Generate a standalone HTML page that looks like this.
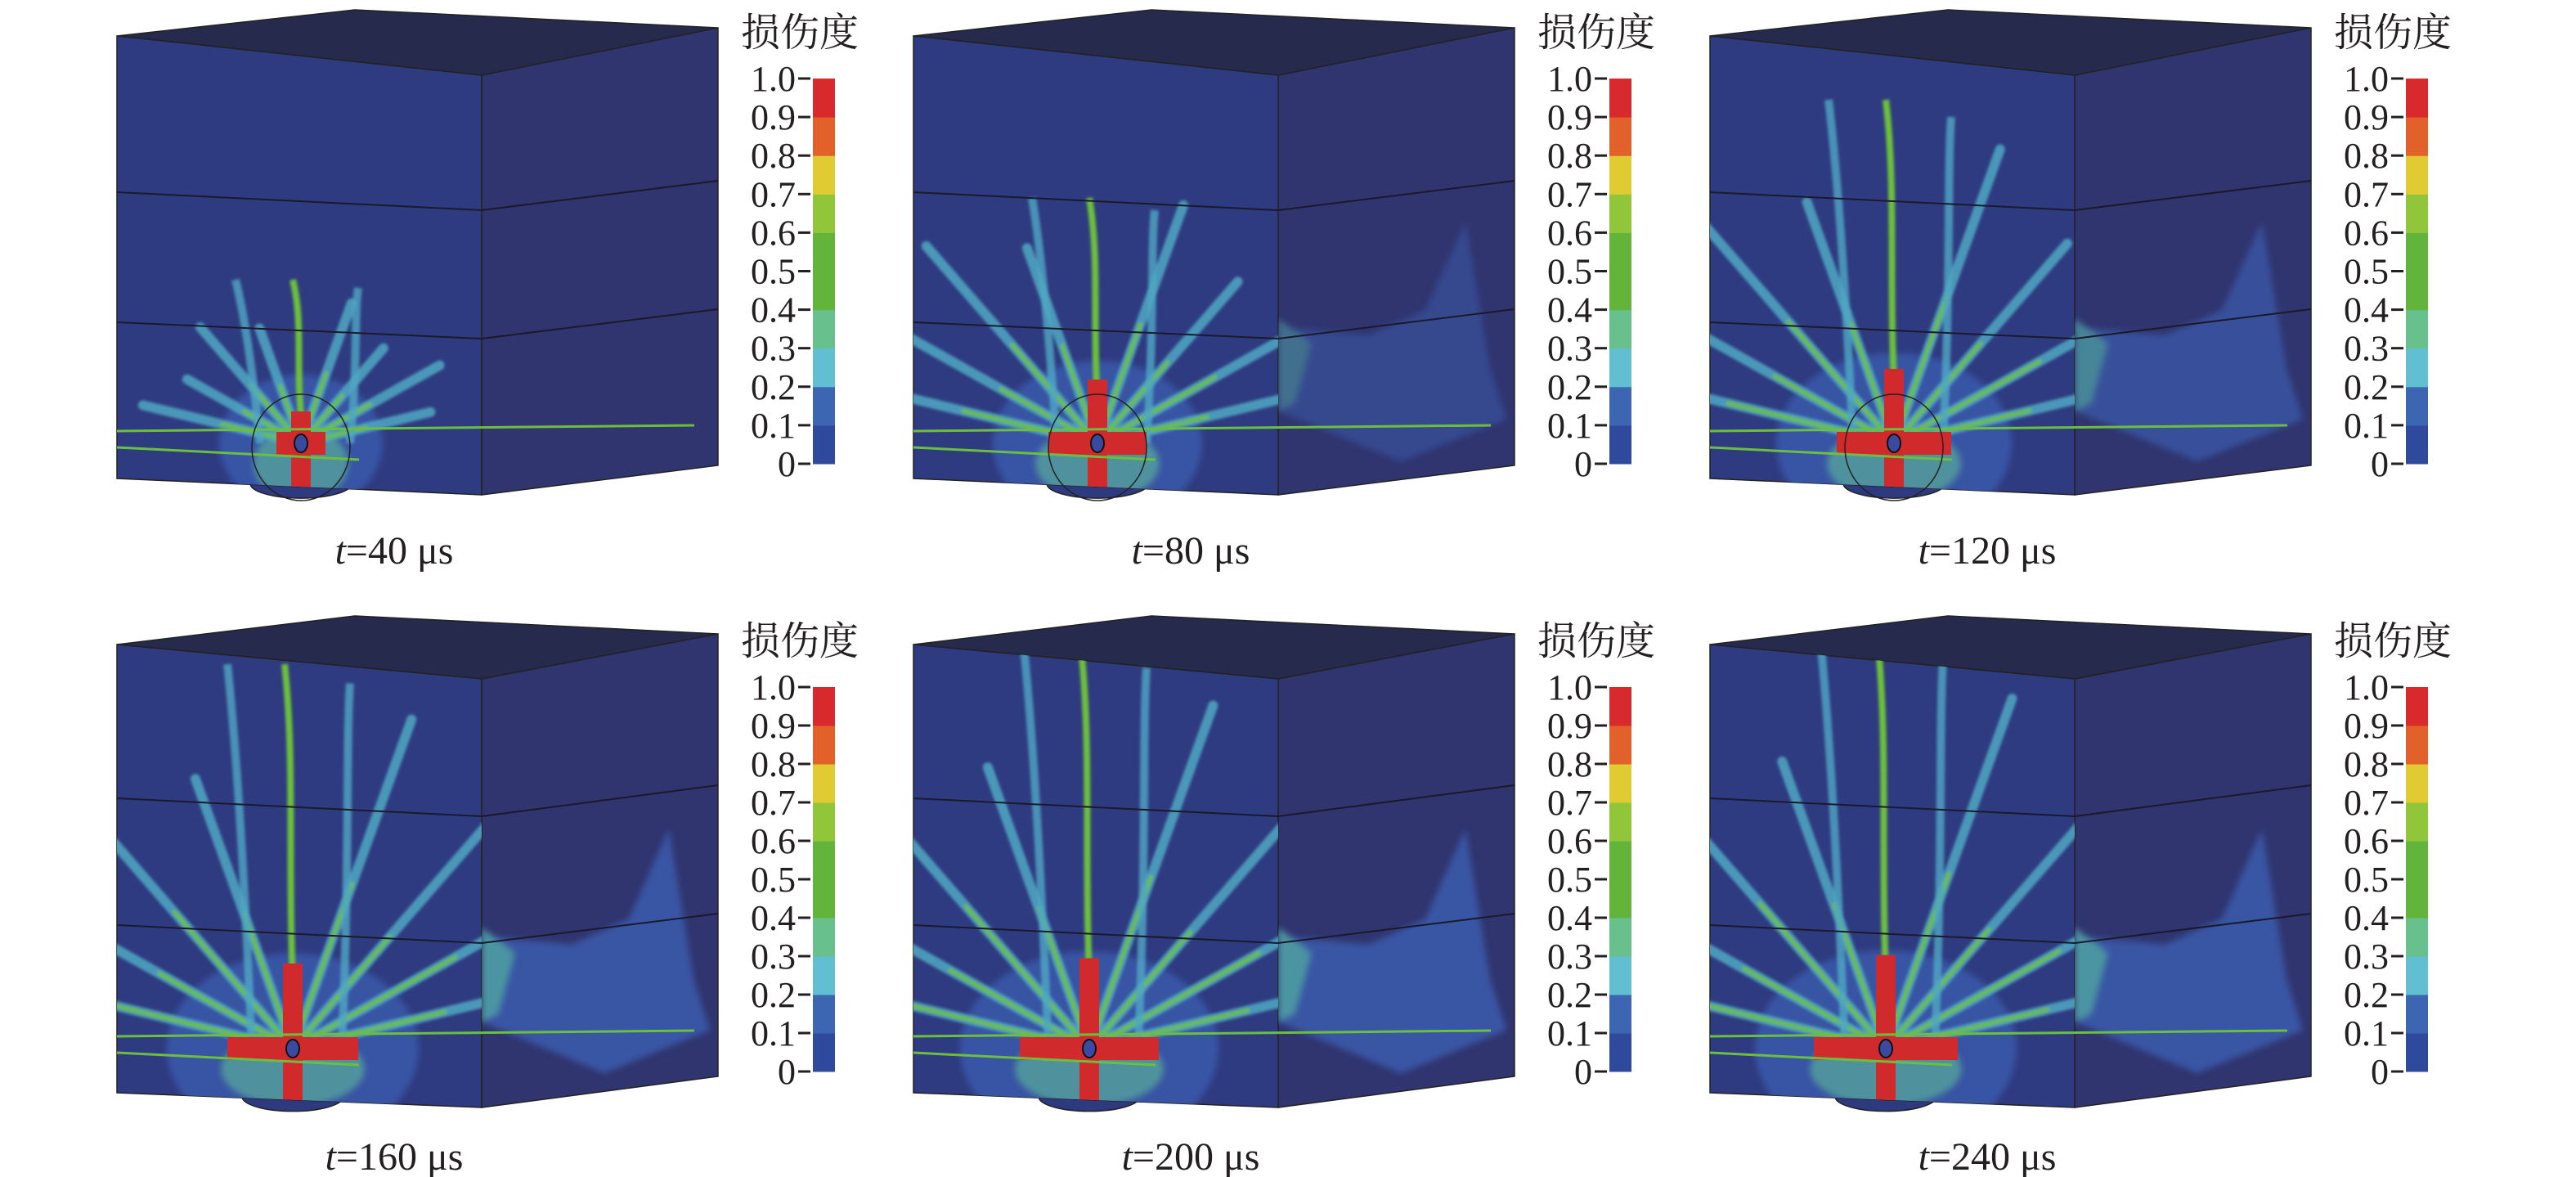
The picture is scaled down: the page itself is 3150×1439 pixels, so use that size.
<!DOCTYPE html>
<html><head><meta charset="utf-8"><style>
html,body{margin:0;padding:0;background:#fff;}
svg{display:block;}
text{font-family:"Liberation Serif","Noto Serif CJK SC",serif;fill:#231f20;}
</style></head><body>
<svg id="fig" width="3150" height="1439" viewBox="0 0 3150 1439" xmlns="http://www.w3.org/2000/svg">
<defs>
<filter id="blur" x="-20%" y="-20%" width="140%" height="140%"><feGaussianBlur stdDeviation="4"/></filter>
<filter id="blur2" x="-20%" y="-20%" width="140%" height="140%"><feGaussianBlur stdDeviation="1.5"/></filter>
</defs>
</svg>
<script>
// colorbar data
const tickLabels = ["0","0.1","0.2","0.3","0.4","0.5","0.6","0.7","0.8","0.9","1.0"];
const bandColors = ["#2f4a9c","#3c65b2","#62bfd2","#68c08c","#62b53a","#62b53a","#92c63a","#e0cc32","#e2602a","#d82a2c"];
// panel data
const timeLabels = ["40","80","120","160","200","240"];
const rayAngles = [165,148,128,108,72,52,32,15];
const rayLengths = [200,340,420,470,490,500];
const verticalCrack = [200,300,420,470,490,500];
const crossHalfWidth = [30,60,70,80,85,88];
const rightDamage = [0,0.55,0.75,0.9,0.9,0.9];

const NS="http://www.w3.org/2000/svg";
const svg=document.getElementById('fig');
const defs=svg.querySelector('defs');
function mk(tag,attrs,parent){const e=document.createElementNS(NS,tag);for(const k in attrs)e.setAttribute(k,attrs[k]);(parent||svg).appendChild(e);return e;}

const rows=[
 {fl:143,ft:44,fr:589,frt:92,fb:585,frb:605,rr:878,rt:34,rb:569,bx:434,by:12,
  b1:[235,257,221],b2:[394,414,378],cx:368,cy:542,lab:689,cbTop:96,cbBot:567,ttl:56},
 {fl:143,ft:788,fr:589,frt:830,fb:1336,frb:1354,rr:878,rt:775,rb:1316,bx:434,by:753,
  b1:[976,998,960],b2:[1131,1153,1117],cx:358,cy:1282,lab:1430,cbTop:840,cbBot:1310,ttl:800}
];
const colDX=974;

for(let i=0;i<6;i++){
  const r=rows[Math.floor(i/3)], dx=(i%3)*colDX;
  const g=mk('g',{transform:`translate(${dx},0)`});
  
  
  const botAt=x=>r.fb+(r.frb-r.fb)*(x-r.fl)/(r.fr-r.fl);
  const cyl=mk('ellipse',{cx:r.cx,cy:botAt(r.cx)-4,rx:62,ry:18,fill:'#2e3a80',stroke:'#222',"stroke-width":1.5},g);
  
  
  const top=mk('polygon',{points:`${r.fl},${r.ft} ${r.bx},${r.by} ${r.rr},${r.rt} ${r.fr},${r.frt}`,fill:'#262a4c',stroke:'#222','stroke-width':1.5},g);
  
  
  const rf=mk('polygon',{points:`${r.fr},${r.frt} ${r.rr},${r.rt} ${r.rr},${r.rb} ${r.fr},${r.frb}`,fill:'#30356f',stroke:'#222','stroke-width':1.5},g);
  
  
  const ff=mk('polygon',{points:`${r.fl},${r.ft} ${r.fr},${r.frt} ${r.fr},${r.frb} ${r.fl},${r.fb}`,fill:'#2f3b80',stroke:'#222','stroke-width':1.5},g);
  
  
  const cp=mk('clipPath',{id:'clip'+i},defs);
  mk('polygon',{points:`${r.fl},${r.ft} ${r.fr},${r.frt} ${r.fr},${r.frb} ${r.fl},${r.fb}`},cp);
  const cpr=mk('clipPath',{id:'clipr'+i},defs);
  mk('polygon',{points:`${r.fr},${r.frt} ${r.rr},${r.rt} ${r.rr},${r.rb} ${r.fr},${r.frb}`},cpr);
  if(rightDamage[i]>0){
    const rd=mk('g',{'clip-path':`url(#clipr${i})`,opacity:rightDamage[i],filter:'url(#blur)'},g);
    
    
    const h=r.frb-r.frt;
    mk('polygon',{points:`${r.fr},${r.frt+h*0.6} ${r.fr+110},${r.frt+h*0.62} ${r.fr+180},${r.frt+h*0.56} ${r.rr-60},${r.frt+h*0.35} ${r.rr-30},${r.frt+h*0.7} ${r.rr-10},${r.frb-h*0.18} ${r.fr+150},${r.frb-h*0.08} ${r.fr},${r.frb-h*0.2}`,fill:'#3a5aaa'},rd);
    mk('polygon',{points:`${r.fr},${r.frt+h*0.58} ${r.fr+40},${r.frt+h*0.64} ${r.fr+20},${r.frt+h*0.78} ${r.fr},${r.frt+h*0.8}`,fill:'#4fa0a8'},rd);
  }
  const d=mk('g',{'clip-path':`url(#clip${i})`},g);
  
  
  mk('ellipse',{cx:r.cx,cy:r.cy,rx:60+rayLengths[i]*0.2,ry:60+rayLengths[i]*0.12,fill:'#3a5cae',opacity:0.8,filter:'url(#blur)'},d);
  mk('ellipse',{cx:r.cx,cy:r.cy+25,rx:40+crossHalfWidth[i]*0.6,ry:45,fill:'#5fbd9a',opacity:0.6,filter:'url(#blur)'},d);
  const rays=mk('g',{filter:'url(#blur2)'},d);
  rayAngles.forEach((a,k)=>{
    const L=rayLengths[i]*(k%2?0.82:1);
    const x2=r.cx+Math.cos(a*Math.PI/180)*L, y2=r.cy-Math.sin(a*Math.PI/180)*L*0.9;
    const ray=mk('line',{x1:r.cx,y1:r.cy,x2:x2,y2:y2,stroke:'#4fa8c4','stroke-width':12,'stroke-linecap':'round',opacity:0.85},rays);
    
    
    mk('line',{x1:r.cx,y1:r.cy,x2:(r.cx*0.5+x2*0.5),y2:(r.cy*0.5+y2*0.5),stroke:'#6cbf3e','stroke-width':5,'stroke-linecap':'round'},rays);
  });
  const vc=mk('path',{d:`M${r.cx+5},${r.cy} C${r.cx-10},${r.cy-verticalCrack[i]*0.4} ${r.cx+5},${r.cy-verticalCrack[i]*0.7} ${r.cx-10},${r.cy-verticalCrack[i]}`,stroke:'#6cbf3e','stroke-width':8,fill:'none'},rays);
  
  
  mk('path',{d:`M${r.cx-50},${r.cy} C${r.cx-60},${r.cy-verticalCrack[i]*0.5} ${r.cx-70},${r.cy-verticalCrack[i]*0.8} ${r.cx-80},${r.cy-verticalCrack[i]}`,stroke:'#4fa8c4','stroke-width':10,fill:'none',opacity:0.8},rays);
  mk('path',{d:`M${r.cx+60},${r.cy} C${r.cx+70},${r.cy-verticalCrack[i]*0.5} ${r.cx+65},${r.cy-verticalCrack[i]*0.8} ${r.cx+70},${r.cy-verticalCrack[i]*0.95}`,stroke:'#4fa8c4','stroke-width':10,fill:'none',opacity:0.8},rays);
  mk('line',{x1:r.fl,y1:r.cy-15,x2:r.fr+260,y2:r.cy-22,stroke:'#6cbf3e','stroke-width':3},g);
  mk('line',{x1:r.fl,y1:r.cy+5,x2:r.fr-150,y2:r.cy+20,stroke:'#6cbf3e','stroke-width':3},g);
  const w=crossHalfWidth[i];
  const cr=mk('g',{},d);
  
  
  mk('rect',{x:r.cx-w,y:r.cy-14,width:2*w,height:28,fill:'#d02a2c'},cr);
  mk('rect',{x:r.cx-12,y:r.cy-w*1.3,width:24,height:w*1.3+80,fill:'#d02a2c'},cr);
  mk('ellipse',{cx:r.cx,cy:r.cy,rx:8,ry:11,fill:'#3a4aa0',stroke:'#111','stroke-width':2},cr);
  [r.b1,r.b2].forEach(b=>{
    const bl=mk('polyline',{points:`${r.fl},${b[0]} ${r.fr},${b[1]} ${r.rr},${b[2]}`,fill:'none',stroke:'#1a1a2a','stroke-width':2},g);
    
    
  });
  if(i<3){
    mk('ellipse',{cx:r.cx,cy:r.cy+5,rx:60,ry:65,fill:'none',stroke:'#222','stroke-width':1.5},g);
  }
  const tl=mk('text',{x:482,y:r.lab,'font-size':48,'text-anchor':'middle'},g);
  
  
  tl.innerHTML=`<tspan font-style="italic">t</tspan>=${timeLabels[i]} μs`;
  const cb=mk('g',{},g);
  
  
  const top0=r.cbTop, bot=r.cbBot, bx=994, bw=27;
  const yScale=v=>bot-(bot-top0)*v/10;
  bandColors.forEach((c,k)=>{
    const s=mk('rect',{x:bx,y:yScale(k+1),width:bw,height:yScale(k)-yScale(k+1)+0.5,fill:c},cb);
    
    
  });
  tickLabels.forEach((t,k)=>{
    const y=yScale(k);
    mk('line',{x1:976,x2:991,y1:y,y2:y,stroke:'#231f20','stroke-width':3},cb);
    const tx=mk('text',{x:973,y:y+15,'font-size':44,'text-anchor':'end'},cb);
    
    
    tx.textContent=t;
  });
  const ttl=mk('text',{x:906,y:r.ttl,'font-size':48},cb);
  
  
  ttl.textContent='损伤度';
}
</script>
</body></html>
